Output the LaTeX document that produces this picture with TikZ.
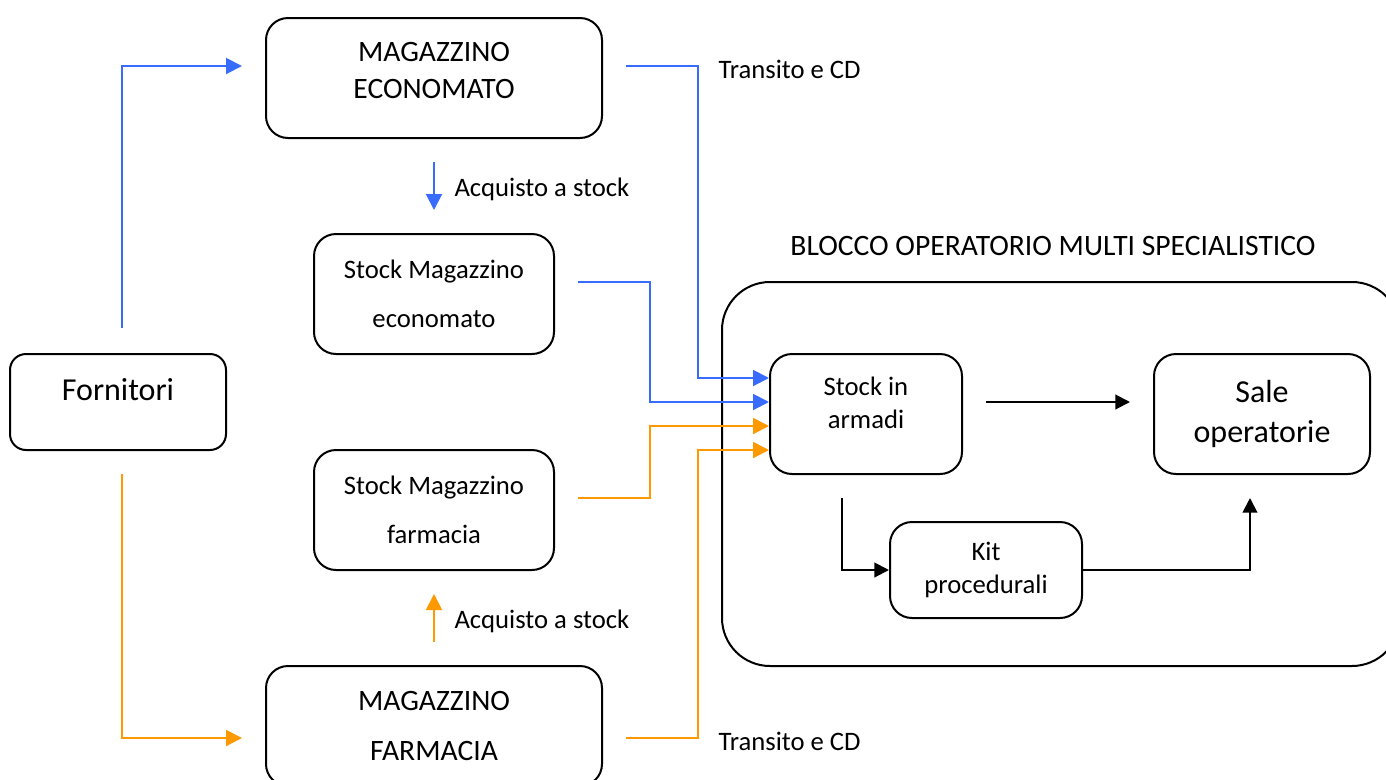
\documentclass[tikz,border=0pt]{standalone}
\usepackage{fontspec}
\setmainfont{Carlito}
\usetikzlibrary{arrows.meta}

\definecolor{blu}{RGB}{56,108,255}
\definecolor{arancio}{RGB}{255,153,0}

\tikzset{every picture/.style={line width=0.75pt}}

\begin{document}
\begin{tikzpicture}[x=0.75pt,y=0.75pt,yscale=-1,xscale=1,
  box/.style={draw, line width=1.5pt, rounded corners=16.5pt, align=center, inner sep=0pt, font=\fontsize{20}{36.75}\selectfont},
  maiusc/.style={font=\fontsize{22.2}{27.75}\selectfont},
  txtin/.style={align=center, inner sep=0pt},
  testo/.style={anchor=west, inner sep=0pt, font=\fontsize{20}{24}\selectfont},
  bluline/.style={color=blu, line width=1.5pt, -{Triangle[length=12pt,width=12pt]}},
  arline/.style={color=arancio, line width=1.5pt, -{Triangle[length=12pt,width=12pt]}},
  blkline/.style={color=black, line width=1.5pt, -{Triangle[length=11pt,width=11pt]}}]
\path[use as bounding box] (0,0) rectangle (1386,779);

%Rounded Rect
\node[box, minimum width=252pt, minimum height=90pt,
  label={[txtin, maiusc, yshift=5.5pt, name=ecoTxt]center:MAGAZZINO\\ECONOMATO}] (eco) at (434,78) {};
\node[box, minimum width=180pt, minimum height=90pt] (stockEco) at (434,294) {Stock Magazzino\\economato};
\node[box, minimum width=162pt, minimum height=72pt, rounded corners=12pt,
  label={[txtin, font=\fontsize{24}{29}\selectfont, yshift=9pt, name=fornTxt]center:Fornitori}] (forn) at (118,402) {};
\node[box, minimum width=180pt, minimum height=90pt] (stockFar) at (434,510) {Stock Magazzino\\farmacia};
\node[box, minimum width=252pt, minimum height=90pt, font=\fontsize{22.2}{38}\selectfont] (far) at (434,726) {MAGAZZINO\\FARMACIA};
%Rounded Rect
\node[box, minimum width=508.5pt, minimum height=288pt, rounded corners=36pt] (blocco) at (1061,474) {};
\node[box, minimum width=144pt, minimum height=90pt,
  label={[txtin, font=\fontsize{20}{24.75}\selectfont, yshift=8.25pt, name=armadiTxt]center:Stock in\\armadi}] (armadi) at (866,414) {};
\node[box, minimum width=162pt, minimum height=90pt, font=\fontsize{24}{30}\selectfont] (sale) at (1262,414) {Sale\\operatorie};
\node[box, minimum width=144pt, minimum height=72pt, font=\fontsize{20}{24.75}\selectfont] (kit) at (986,570) {Kit\\procedurali};

% Text Node
\node[testo] (acqEco) at (454,189) {Acquisto a stock};
% Text Node
\node[testo] (acqFar) at (454,621) {Acquisto a stock};
% Text Node
\node[testo] (trEco) at (718,69) {Transito e CD};
% Text Node
\node[testo] (trFar) at (718,741) {Transito e CD};
% Text Node
\node[testo, anchor=center, font=\fontsize{22.2}{24}\selectfont] (titolo) at (1053,246) {BLOCCO OPERATORIO MULTI SPECIALISTICO};

\coordinate (fornUp) at (122,328);
\coordinate (fornDown) at (122,474);
\coordinate (ecoIn) at (242,66);
\coordinate (farIn) at (242,738);
\coordinate (ecoOut) at (626,66);
\coordinate (farOut) at (626,738);
\coordinate (stockEcoOut) at (578,282);
\coordinate (stockFarOut) at (578,498);
\coordinate (acqEcoTop) at (434,162);
\coordinate (acqEcoBot) at (434,210);
\coordinate (acqFarBot) at (434,642);
\coordinate (acqFarTop) at (434,594);
\coordinate (armadiOut) at (986,402);
\coordinate (saleIn) at (1130,402);
\coordinate (armadiDown) at (842,498);
\coordinate (saleUp) at (1250,498);

%Straight Lines
\draw[bluline] (fornUp) |- (ecoIn);
\draw[arline] (fornDown) |- (farIn);
\draw[bluline] (acqEcoTop) -- (acqEcoBot);
\draw[arline] (acqFarBot) -- (acqFarTop);
%Straight Lines
\draw[bluline] (ecoOut) -| (698,378) -- (armadi.west |- 0,378);
\draw[bluline] (stockEcoOut) -| (650,402) -- (armadi.west |- 0,402);
\draw[arline] (stockFarOut) -| (650,426) -- (armadi.west |- 0,426);
\draw[arline] (farOut) -| (698,450) -- (armadi.west |- 0,450);
%Straight Lines
\draw[blkline] (armadiOut) -- (saleIn);
\draw[blkline] (armadiDown) |- (kit.west);
\draw[blkline] (kit.east) -| (saleUp);

\end{tikzpicture}
\end{document}
